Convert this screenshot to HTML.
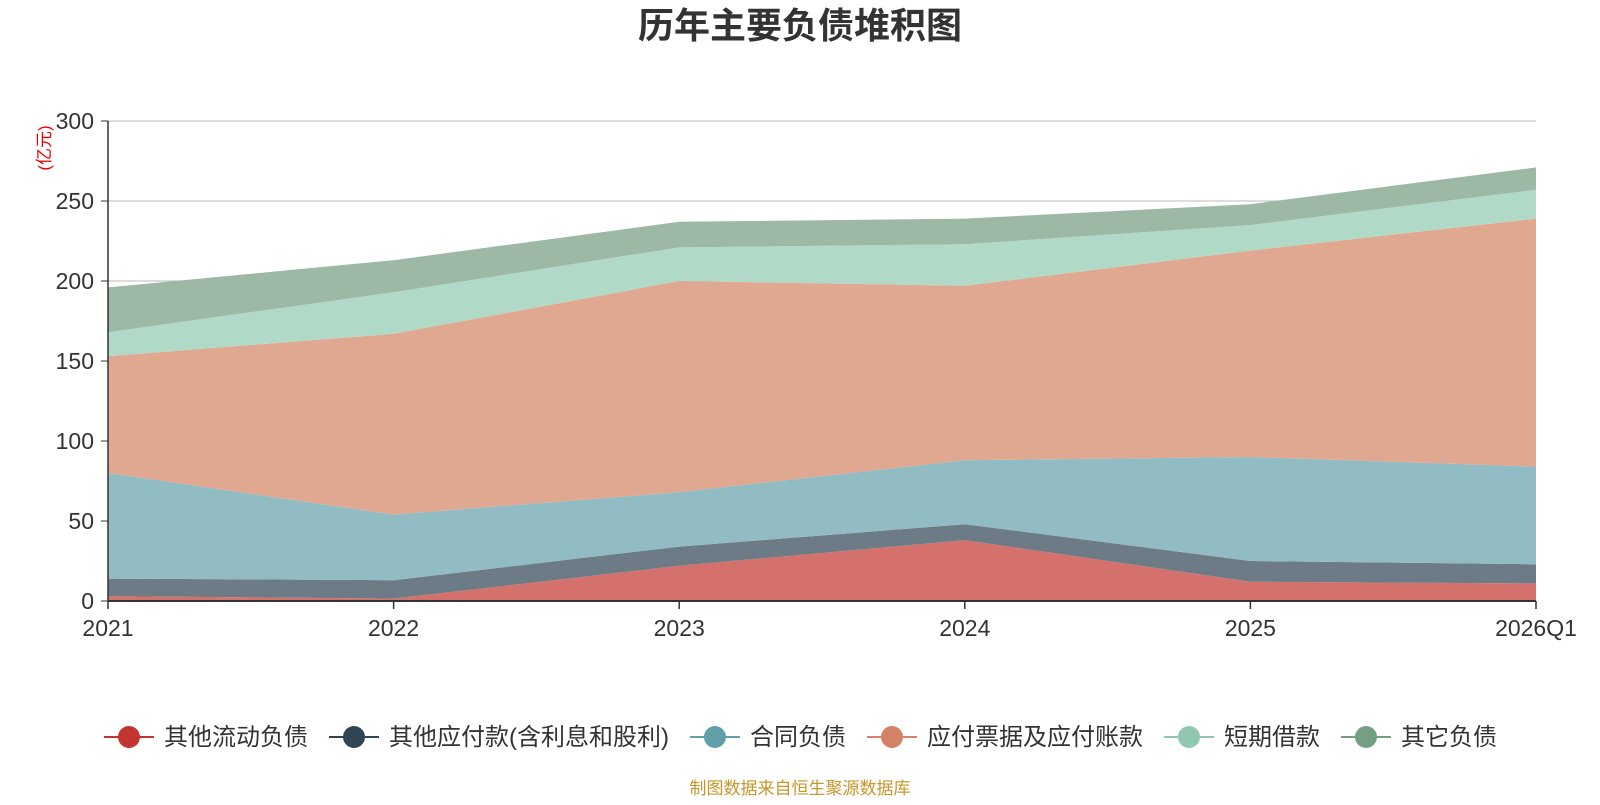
<!DOCTYPE html>
<html><head><meta charset="utf-8"><style>
body{margin:0;background:#fff;width:1600px;height:800px;overflow:hidden;font-family:"Liberation Sans","Noto Sans CJK SC",sans-serif}
</style></head><body>
<svg id="c" width="1600" height="800"></svg>
<script>
const categories=["2021","2022","2023","2024","2025","2026Q1"];
const seriesNames=["其他流动负债","其他应付款(含利息和股利)","合同负债","应付票据及应付账款","短期借款","其它负债"];
const s0=[3,1.5,22,38,12,11];
const s1=[11,11.5,12,10,13,12];
const s2=[66,41,34,40,65,61];
const s3=[73,113,132,109,129,155];
const s4=[15,26,21,26,16,18];
const s5=[28,20,16,16,13,14];
const yTicks=[0,50,100,150,200,250,300];
const series=[s0,s1,s2,s3,s4,s5];
const areaColors=["#d4716c","#6d7b87","#92bcc3","#e0a891","#b1d9c8","#9db8a5"];
const legendColors=["#c23531","#2f4554","#61a0a8","#d48265","#91c7ae","#749f83"];
const L=108,R=1536,T=121,B=601,YMAX=300;
const x=i=>L+(R-L)*i/(categories.length-1);
const y=v=>B-(B-T)*v/YMAX;
const svg=document.getElementById('c');
const NS="http://www.w3.org/2000/svg";
function mk(tag,attrs,parent){const e=document.createElementNS(NS,tag);for(const k in attrs)e.setAttribute(k,attrs[k]);(parent||svg).appendChild(e);return e;}
let t=mk('text',{x:800,y:38,'text-anchor':'middle','font-size':36,'font-weight':'bold',fill:'#333'});
t.textContent="历年主要负债堆积图";


yTicks.forEach(v=>{
  const g=mk('line',{x1:L,x2:R,y1:y(v),y2:y(v),stroke:'#bbb','stroke-width':1});
  
  
  const lb=mk('text',{x:L-14,y:y(v)+8,'text-anchor':'end','font-size':23,fill:'#333'});
  lb.textContent=v;
  
  
  const tk=mk('line',{x1:L-7,x2:L,y1:y(v),y2:y(v),stroke:'#333'});
  
  
});
const u=mk('text',{x:0,y:0,'font-size':17,fill:'#e00','text-anchor':'middle',transform:'translate(50,148) rotate(-90)'});
u.textContent="(亿元)";


let cum=categories.map(()=>0);
series.forEach((s,k)=>{
  const lo=cum.slice();const hi=cum.map((c,i)=>c+s[i]);
  let d="M"+hi.map((v,i)=>x(i)+","+y(v)).join(" L");
  for(let i=lo.length-1;i>=0;i--)d+=" L"+x(i)+","+y(lo[i]);
  d+="Z";
  const p=mk('path',{d:d,fill:areaColors[k],stroke:'none'});
  
  
  cum=hi;
});
const ya=mk('line',{x1:L,x2:L,y1:T,y2:B,stroke:'#333','stroke-width':1.5});


const xa=mk('line',{x1:L,x2:R,y1:B,y2:B,stroke:'#333','stroke-width':2});


categories.forEach((c,i)=>{
  const tk=mk('line',{x1:x(i),x2:x(i),y1:B,y2:B+8,stroke:'#333','stroke-width':1.5});
  
  
  const lb=mk('text',{x:x(i),y:B+35,'text-anchor':'middle','font-size':23,fill:'#333'});
  lb.textContent=c;
  
  
});
const lg=mk('g',{});


let lx=104;const ly=737;
seriesNames.forEach((n,k)=>{
  const g=mk('g',{},lg);
  
  
  mk('line',{x1:lx,x2:lx+50,y1:ly,y2:ly,stroke:legendColors[k],'stroke-width':2},g);
  mk('circle',{cx:lx+25,cy:ly,r:11,fill:legendColors[k]},g);
  const tx=mk('text',{x:lx+60,y:ly+8,'font-size':24,fill:'#333'},g);
  tx.textContent=n;
  const w=tx.getComputedTextLength();
  lx+=60+w+21;
});
const src=mk('text',{x:800,y:794,'text-anchor':'middle','font-size':17,fill:'#c8962a'});
src.textContent="制图数据来自恒生聚源数据库";


</script>
</body></html>
